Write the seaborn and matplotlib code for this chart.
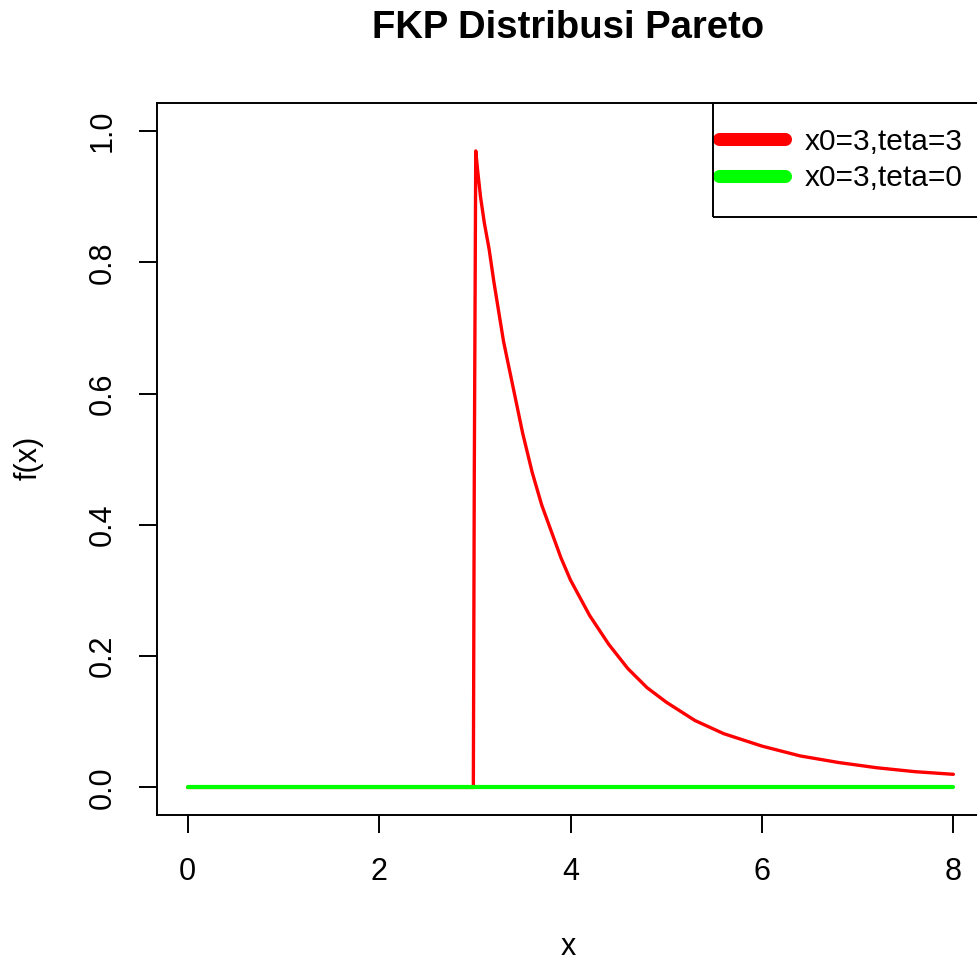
import numpy as np
import pandas as pd
import matplotlib
matplotlib.use('Agg')
import matplotlib.pyplot as plt
from matplotlib.patches import Rectangle
import seaborn as sns

# Dados (FKP Pareto x0=3, teta=3)
x_teta3 = [0.00, 2.985, 2.995, 3.01, 3.03, 3.06, 3.10, 3.15, 3.20, 3.30, 3.40, 3.50,
           3.60, 3.70, 3.80, 3.90, 4.00, 4.20, 4.40, 4.60, 4.80, 5.00, 5.30,
           5.60, 6.00, 6.40, 6.80, 7.20, 7.60, 8.00]
y_teta3 = [0.000, 0.000, 0.480, 0.970, 0.940, 0.900, 0.860, 0.820, 0.770, 0.680, 0.610, 0.540,
           0.480, 0.430, 0.390, 0.350, 0.316, 0.262, 0.218, 0.181, 0.152, 0.130, 0.102,
           0.082, 0.063, 0.048, 0.038, 0.030, 0.024, 0.020]

# x0=3, teta=0 -> nol di semua titik
x_teta0 = [0.0, 8.0]
y_teta0 = [0.0, 0.0]

labels = ['x0=3,teta=3', 'x0=3,teta=0']
x_ticks = [0, 2, 4, 6, 8]
y_ticks = [0.0, 0.2, 0.4, 0.6, 0.8, 1.0]

sns.set_style("white")
plt.rcParams['font.family'] = ['Liberation Sans', 'DejaVu Sans']
plt.rcParams['text.color'] = 'black'
plt.rcParams['axes.labelcolor'] = 'black'
plt.rcParams['xtick.color'] = 'black'
plt.rcParams['ytick.color'] = 'black'

W, H = 977, 963
fig = plt.figure(figsize=(W / 100, H / 100), dpi=100)
ax = fig.add_axes([157 / W, 1 - 815 / H, (984 - 157) / W, (815 - 103) / H])

df1 = pd.DataFrame({'x': x_teta3, 'y': y_teta3})
df0 = pd.DataFrame({'x': x_teta0, 'y': y_teta0})

sns.lineplot(data=df1, x='x', y='y', ax=ax, color='#ff0000', linewidth=2.4,
             estimator=None, sort=False, label=labels[0])
sns.lineplot(data=df0, x='x', y='y', ax=ax, color='#00ff00', linewidth=3.0,
             estimator=None, sort=False, label=labels[1])

ax.set_xlim(-0.32, 8.32)
ax.set_ylim(-0.042, 1.043)
ax.set_xticks(x_ticks)
ax.set_xticklabels([str(t) for t in x_ticks])
ax.set_yticks(y_ticks)
ax.set_yticklabels([f'{t:.1f}' for t in y_ticks])

fs = 22
for s in ax.spines.values():
    s.set_visible(True)
    s.set_color('black')
    s.set_linewidth(1.4)
ax.tick_params(axis='both', direction='out', length=13, width=1.4, color='black',
               labelsize=fs, pad=15, left=True, bottom=True, labelcolor='black')
ax.tick_params(axis='x', pad=17)
ax.tick_params(axis='y', labelrotation=90)
for lab in ax.get_yticklabels():
    lab.set_va('center')

ax.set_xlabel('x', fontsize=fs)
ax.set_ylabel('f(x)', fontsize=fs)
ax.xaxis.set_label_coords((568 - 157) / 827, (815 - 947) / 712)
ax.xaxis.label.set_va('center')
ax.yaxis.set_label_coords((29 - 157) / 827, (815 - 458) / 712)
ax.yaxis.label.set_va('center')

fig.suptitle('FKP Distribusi Pareto', x=568 / W, y=1 - 28 / H, va='center',
             fontsize=27.5, fontweight='bold', color='black')

# Legenda (kotak digambar manual karena terpotong di kanan)
leg_fs = 21.5
leg = ax.legend(loc='center left', bbox_to_anchor=(719 / W, 1 - 160 / H),
                bbox_transform=fig.transFigure, frameon=False, fontsize=leg_fs,
                borderpad=0, borderaxespad=0, handlelength=66 / 30,
                handletextpad=20 / 30, labelspacing=0.28)
for ln in leg.get_lines():
    ln.set_linewidth(9.4)
    ln.set_solid_capstyle('round')
fig.patches.append(Rectangle((713 / W, 1 - 217 / H), 0.5, (217 - 103) / H,
                             transform=fig.transFigure, fill=False,
                             edgecolor='black', linewidth=1.4))

plt.savefig('out.png', dpi=100)
plt.close()
